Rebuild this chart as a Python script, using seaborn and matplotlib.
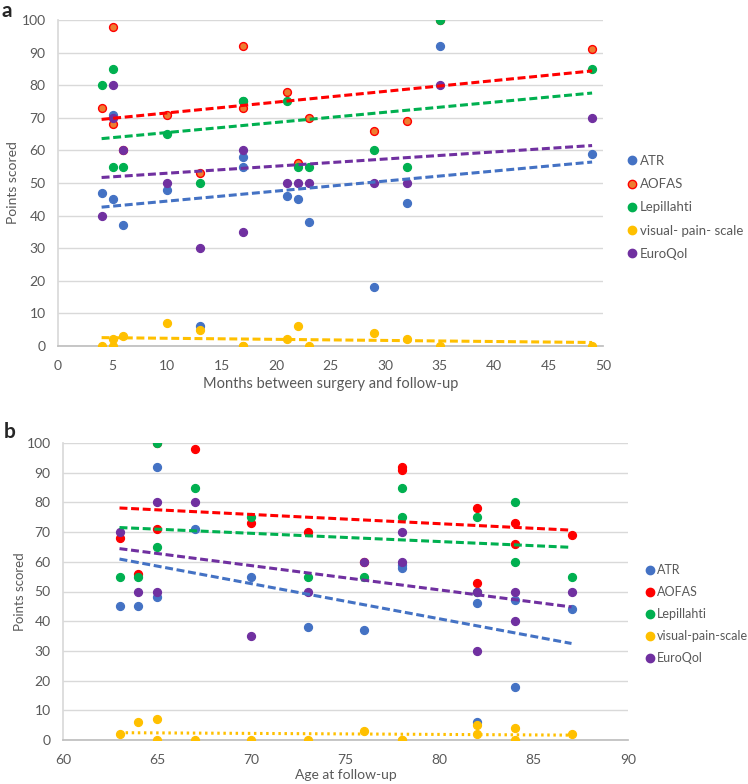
import numpy as np
import pandas as pd
import seaborn as sns
import matplotlib.pyplot as plt
from matplotlib.lines import Line2D

sns.set_theme(style="white")
plt.rcParams['font.family'] = ['Lato', 'DejaVu Sans']

# one entry per patient (some AOFAS points sit hidden under other markers)
months = [4, 5, 5, 6, 10, 13, 17, 17, 21, 22, 23, 29, 32, 35, 49]
age = [84, 67, 63, 76, 65, 82, 78, 70, 82, 64, 73, 84, 87, 65, 78]
atr = [47, 71, 45, 37, 48, 6, 58, 55, 46, 45, 38, 18, 44, 92, 59]
aofas = [73, 98, 68, 60, 71, 53, 92, 73, 78, 56, 70, 66, 69, 100, 91]
lepillahti = [80, 85, 55, 55, 65, 50, 75, 75, 75, 55, 55, 60, 55, 100, 85]
vas = [0, 0, 2, 3, 7, 5, 0, 0, 2, 6, 0, 4, 2, 0, 0]
euroqol = [40, 80, 70, 60, 50, 30, 60, 35, 50, 50, 50, 50, 50, 80, 70]

names_a = ['ATR', 'AOFAS', 'Lepillahti', 'visual- pain- scale', 'EuroQol']
names_b = ['ATR', 'AOFAS', 'Lepillahti', 'visual-pain-scale', 'EuroQol']
scores = [atr, aofas, lepillahti, vas, euroqol]

line_cols = ['#4472C4', '#FF0000', '#00B050', '#FFC000', '#7030A0']
face_a = ['#4472C4', '#ED7D31', '#00B050', '#FFC000', '#7030A0']
edge_a = ['#4472C4', '#FF0000', '#00B050', '#FFC000', '#7030A0']

GRAY = '#595959'
GRID = '#D9D9D9'
DASH = (0, (2.6, 1.2))
DOT = (0, (0.8, 1.2))

fig = plt.figure(figsize=(7.48, 7.84), dpi=100)
W, H = 748, 784
ax_a = fig.add_axes([58 / W, 1 - 346 / H, 545 / W, 326 / H])
ax_b = fig.add_axes([63 / W, 1 - 740 / H, 565 / W, 297 / H])


def draw(ax, xs, names, faces, edges, styles):
    for vals, fc, ec in zip(scores, faces, edges):
        sns.scatterplot(x=xs, y=vals, ax=ax, color=fc, edgecolor=ec,
                        linewidth=1.0, s=32, zorder=3, legend=False)
    for vals, lc, ls in zip(scores, line_cols, styles):
        sns.regplot(x=np.array(xs, float), y=np.array(vals, float), ax=ax,
                    scatter=False, ci=None, truncate=True,
                    line_kws=dict(color=lc, lw=2.2, ls=ls, zorder=4))
    ax.set_ylim(0, 100)
    ax.set_yticks(range(0, 101, 10))
    ax.yaxis.grid(True, color=GRID, lw=1)
    ax.xaxis.grid(False)
    for s in ['top', 'right']:
        ax.spines[s].set_visible(False)
    ax.spines['left'].set_color(GRID)
    ax.spines['bottom'].set_color('#BFBFBF')
    ax.tick_params(axis='both', colors=GRAY, labelsize=10, length=0)
    ax.tick_params(axis='y', pad=9)
    ax.tick_params(axis='x', pad=10)
    handles = [Line2D([], [], ls='', marker='o', ms=6, markerfacecolor=fc,
                      markeredgecolor=ec, label=n)
               for n, fc, ec in zip(names, faces, edges)]
    return handles


h = draw(ax_a, months, names_a, face_a, edge_a, [DASH] * 5)
ax_a.set_xlim(0, 50)
ax_a.set_xticks(range(0, 51, 5))
ax_a.set_xlabel('Months between surgery and follow-up', color=GRAY, fontsize=10.5, labelpad=4)
ax_a.set_ylabel('Points scored', color=GRAY, fontsize=10)
ax_a.yaxis.set_label_coords(-0.072, 0.5)
ax_a.legend(handles=h, loc='center left', bbox_to_anchor=(1.026, 0.425), frameon=False,
            fontsize=9.5, handletextpad=0.0, labelspacing=0.85, handlelength=1.2,
            borderpad=0, labelcolor=GRAY)

h = draw(ax_b, age, names_b, line_cols, line_cols, [DASH, DASH, DASH, DOT, DASH])
ax_b.set_xlim(60, 90)
ax_b.set_xticks(range(60, 91, 5))
ax_b.set_xlabel('Age at follow-up', color=GRAY, fontsize=10, labelpad=2)
ax_b.set_ylabel('Points scored', color=GRAY, fontsize=9.5)
ax_b.yaxis.set_label_coords(-0.066, 0.5)
ax_b.legend(handles=h, loc='center left', bbox_to_anchor=(1.014, 0.424), frameon=False,
            fontsize=9, handletextpad=0.0, labelspacing=0.8, handlelength=1.2,
            borderpad=0, labelcolor=GRAY)

fig.text(1 / W, 1 - 1 / H, 'a', fontsize=15, fontweight='bold', va='top')
fig.text(4 / W, 1 - 422 / H, 'b', fontsize=15, fontweight='bold', va='top')

fig.savefig('out.png', dpi=100)
